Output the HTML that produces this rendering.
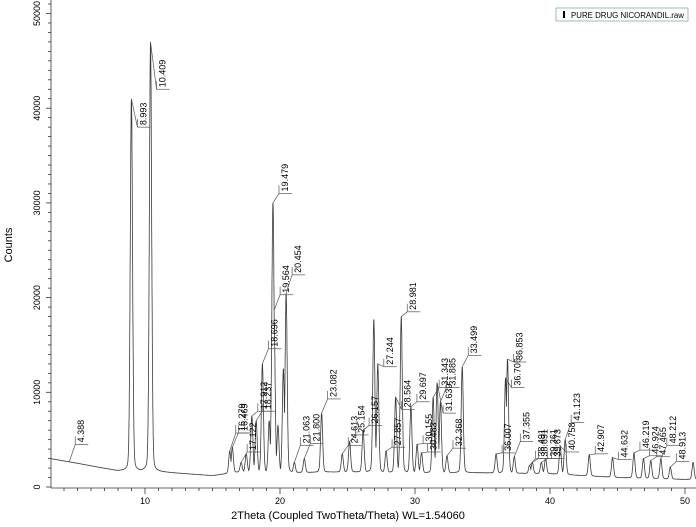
<!DOCTYPE html>
<html><head><meta charset="utf-8"><style>
body{margin:0;background:#fff;}
svg{display:block;font-family:"Liberation Sans",sans-serif;}
</style></head><body>
<svg id="chart" width="696" height="527">
<g id="axes"></g>
<path id="curve" fill="none" stroke="#3a3a3a" stroke-width="0.8"/>
<g id="labels"></g>
<g>
<rect x="556" y="8" width="132" height="13" fill="#fff" stroke="#8aa" stroke-width="0.8"/>
<rect x="563" y="11" width="2" height="7" fill="#000"/>
<text x="571" y="18" font-size="8.6" fill="#000" textLength="113" lengthAdjust="spacingAndGlyphs">PURE DRUG NICORANDIL.raw</text>
</g>
<text x="12" y="245" font-size="11" transform="rotate(-90 12 245)" text-anchor="middle">Counts</text>
<text x="348" y="519" font-size="11" text-anchor="middle">2Theta (Coupled TwoTheta/Theta) WL=1.54060</text>
</svg>
<script>
const bgX=[3,5,8,10,15,17,20,25,30,35,40,45,50,51.5];
const bgY=[3000,2500,1700,1700,1200,1600,1500,1600,1500,1500,1400,1000,800,800];
const peakPos=[8.993,10.409,16.279,16.469,17.122,17.5,17.912,18.237,18.696,19.2,19.479,19.564,19.85,20.25,20.454,21.063,21.8,23.082,24.613,25.154,26.157,26.95,27.244,27.857,28.564,28.981,29.697,30.155,30.483,31.343,31.639,31.885,32.368,33.499,36.007,36.706,36.853,37.355,38.491,38.691,39.361,39.673,40.758,41.123,42.907,44.632,46.219,46.924,47.465,48.212,48.913,50.6];
const peakTop=[41000,47000,3800,4200,2600,3500,7500,7000,13000,7000,30000,17500,6500,12500,20500,2600,3000,7800,3500,4800,6000,17700,13000,3800,9500,18000,8500,4500,3600,9500,11000,9000,3300,12700,3500,11500,13500,3200,2300,2600,2600,3000,4300,5000,3400,3100,3600,3000,2800,3000,2100,2600];
const labelText=["4.388","8.993","10.409","16.279","16.469","17.122","17.912","18.237","18.696","19.479","19.564","20.454","21.063","21.800","23.082","24.613","25.154","26.157","27.244","27.857","28.564","28.981","29.697","30.155","30.483","31.343","31.639","31.885","32.368","33.499","36.007","36.706","36.853","37.355","38.491","38.691","39.361","39.673","40.758","41.123","42.907","44.632","46.219","46.924","47.465","48.212","48.913"];
const labelBar=[4500,38000,42000,5700,5700,3700,8000,8000,14600,31000,20300,22400,4400,4600,9300,4400,5500,6500,12700,4200,8200,18500,9000,4600,3700,10500,7800,10500,4100,13900,3600,10500,13200,4800,3000,3000,3000,3000,3700,6800,3500,2900,3900,3300,3200,4400,2700];
const yTicks=[0,10000,20000,30000,40000,50000];
const xTicks=[10,20,30,40,50];
const NS="http://www.w3.org/2000/svg";
const X=t=>145+(t-10)*13.5;
const Y=c=>487-c*0.00947;
function bg(t){for(let i=0;i<bgX.length-1;i++){if(t<=bgX[i+1]){const f=(t-bgX[i])/(bgX[i+1]-bgX[i]);return bgY[i]+f*(bgY[i+1]-bgY[i]);}}return bgY[bgY.length-1];}
function val(t){let m=0;const b=bg(t);for(let i=0;i<peakPos.length;i++){const h=peakTop[i]-bg(peakPos[i]);const w=peakTop[i]>25000?0.1:0.09;const d=(t-peakPos[i])/w;const c=h*(0.85*Math.exp(-0.693*d*d)+0.15/(1+d*d));if(c>m)m=c;}return b+m;}
let d="";
for(let t=3.05;t<=51.5;t+=0.01){d+=(d?"L":"M")+X(t).toFixed(1)+" "+Y(val(t)).toFixed(1);}
document.getElementById("curve").setAttribute("d",d);
const ax=document.getElementById("axes");
function line(x1,y1,x2,y2,name,p){const l=document.createElementNS(NS,"line");l.setAttribute("x1",x1);l.setAttribute("y1",y1);l.setAttribute("x2",x2);l.setAttribute("y2",y2);l.setAttribute("stroke",p.c||"#333");l.setAttribute("stroke-width",p.w||0.8);


p.g.appendChild(l);return l;}
function text(x,y,s,sz,rot,anchor,name,g){const e=document.createElementNS(NS,"text");e.setAttribute("x",x);e.setAttribute("y",y);e.setAttribute("font-size",sz);if(anchor)e.setAttribute("text-anchor",anchor);if(rot)e.setAttribute("transform","rotate(-90 "+x+" "+y+")");e.textContent=s;


g.appendChild(e);return e;}
line(51,0,51,488,"y-axis-line",{g:ax});
line(51,488,696,488,"x-axis-line",{g:ax});
for(let c=0;c<=51000;c+=1000){const maj=c%10000===0;line(maj?46:48,Y(c),51,Y(c),"y-tick",{g:ax});}
yTicks.forEach(c=>text(40,Y(c),String(c),9,true,"middle","y-tick-label",ax));
for(let t=4;t<=51;t++){const maj=t%10===0;line(X(t),488,X(t),maj?494:491,"x-tick",{g:ax});}
xTicks.forEach(t=>text(X(t),504,String(t),9,false,"middle","x-tick-label",ax));
const lg=document.getElementById("labels");
labelText.forEach((s,i)=>{const t=parseFloat(s);const px=X(t),py=Y(val(t));const by=Y(labelBar[i]);const bx=px+6;
line(px,py,bx,by,"peak-leader",{g:lg,c:"#555",w:0.7});
line(bx,by,bx+13,by,"peak-label-bar",{g:lg,c:"#555",w:0.7});
line(bx,by,bx,by-8,"peak-label-tick",{g:lg,c:"#555",w:0.7});
text(bx+9,by-2,s,9,true,"start","peak-label",lg);});
</script>
</body></html>
